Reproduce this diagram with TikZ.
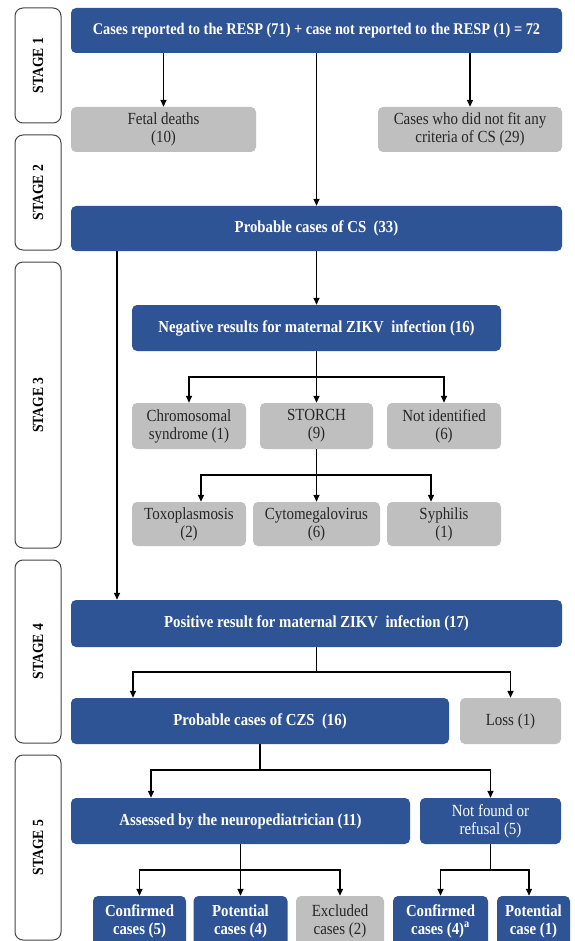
\documentclass[tikz,border=0pt]{standalone}
\usepackage{fontspec}
\setmainfont{Liberation Serif}[FakeStretch=0.88]
\usetikzlibrary{arrows.meta}
\definecolor{boxblue}{RGB}{47,84,150}
\definecolor{boxgray}{RGB}{191,191,191}
\definecolor{stageline}{RGB}{70,70,70}
\definecolor{graytext}{RGB}{38,38,38}
\begin{document}
\begin{tikzpicture}[x=1pt,y=-1pt,
 bluebox/.style={fill=boxblue, rounded corners=5pt, text=white, font=\bfseries\fontsize{16.8}{18}\selectfont, align=center, inner sep=0pt},
 graybox/.style={fill=boxgray, rounded corners=5pt, text=graytext, font=\fontsize{17}{18}\selectfont, align=center, inner sep=0pt},
 stagebox/.style={draw=stageline, line width=1pt, fill=white, rounded corners=8pt, rotate=90, minimum height=46pt, inner sep=0pt, font=\bfseries\fontsize{15.5}{17}\selectfont},
 arr/.style={line width=1.5pt, -{Triangle[length=7pt,width=6pt]}},
 ln/.style={line width=1.5pt}]
\useasboundingbox (0,0) rectangle (574,941);
\fill[white] (0,0) rectangle (574,941);
\clip (0,0) rectangle (574,941);

% stage labels
\node[stagebox, minimum width=115pt] (s1) at (38,65.5) {STAGE 1};
\node[stagebox, minimum width=115pt] (s2) at (38,192.5) {STAGE 2};
\node[stagebox, minimum width=286pt] (s3) at (38,405) {STAGE 3};
\node[stagebox, minimum width=183pt] (s4) at (38,651.5) {STAGE 4};
\node[stagebox, minimum width=185pt] (s5) at (38,847.5) {STAGE 5};

% stage 1-2
\node[bluebox, minimum width=491pt, minimum height=45pt, font=\bfseries\fontsize{16.3}{18}\selectfont] (top) at (316.5,30.5) {Cases reported to the RESP (71) + case not reported to the RESP (1) = 72};
\node[graybox, minimum width=185pt, minimum height=45pt] (fetal) at (163.5,129.5) {Fetal deaths\\(10)};
\node[graybox, minimum width=184pt, minimum height=45pt] (nofit) at (470,129.5) {Cases who did not fit any\\criteria of CS (29)};
\node[bluebox, minimum width=491pt, minimum height=45pt] (cs) at (316.5,228.5) {Probable cases of CS\ \ (33)};

% stage 3
\node[bluebox, minimum width=369pt, minimum height=46pt] (neg) at (316.5,328) {Negative results for maternal ZIKV\ \ infection (16)};
\node[graybox, minimum width=114pt, minimum height=46pt] (chrom) at (189,426) {Chromosomal\\syndrome (1)};
\node[graybox, minimum width=113pt, minimum height=46pt] (storch) at (316.5,426) {STORCH\\(9)};
\node[graybox, minimum width=114pt, minimum height=46pt] (notid) at (444,426) {Not identified\\(6)};
\node[graybox, minimum width=114pt, minimum height=44pt] (toxo) at (189,524) {Toxoplasmosis\\(2)};
\node[graybox, minimum width=127pt, minimum height=44pt] (cmv) at (316.5,524) {Cytomegalovirus\\(6)};
\node[graybox, minimum width=114pt, minimum height=44pt] (syph) at (444,524) {Syphilis\\(1)};

% stage 4
\node[bluebox, minimum width=491pt, minimum height=47pt] (pos) at (316.5,623.5) {Positive result for maternal ZIKV\ \ infection (17)};
\node[bluebox, minimum width=378pt, minimum height=46pt] (czs) at (260,721) {Probable cases of CZS\ \ (16)};
\node[graybox, minimum width=101pt, minimum height=46pt] (loss) at (510.5,721) {Loss (1)};

% stage 5
\node[bluebox, minimum width=339pt, minimum height=46pt] (assess) at (240.5,821) {Assessed by the neuropediatrician (11)};
\node[bluebox, minimum width=141pt, minimum height=46pt, font=\fontsize{17}{18}\selectfont] (notfound) at (490.5,821) {Not found or\\refusal (5)};
\node[bluebox, minimum width=93pt, minimum height=50pt] (conf1) at (139.5,921) {Confirmed\\cases (5)};
\node[bluebox, minimum width=94pt, minimum height=50pt] (pot1) at (240.5,921) {Potential\\cases (4)};
\node[graybox, minimum width=88pt, minimum height=50pt] (excl) at (340,921) {Excluded\\cases (2)};
\node[bluebox, minimum width=95pt, minimum height=50pt] (conf2) at (440.5,921) {Confirmed\\cases (4)\textsuperscript{a}};
\node[bluebox, minimum width=73pt, minimum height=50pt] (pot2) at (533.5,921) {Potential\\case (1)};

% connectors
\draw[arr] (top.south -| fetal.north) -- (fetal.north);
\draw[arr] (top.south -| nofit.north) -- (nofit.north);
\draw[arr] (top.south) -- (cs.north);
\draw[arr] ([xshift=-199.5pt]cs.south) -- ([xshift=-199.5pt]pos.north);
\draw[arr] (cs.south) -- (neg.north);

\coordinate (nj) at (316.5,377);
\draw[ln] (neg.south) -- (nj);
\draw[arr] (nj) -| (chrom.north);
\draw[arr] (nj) -| (notid.north);
\draw[arr] (nj) -- (storch.north);

\coordinate (sj) at (316.5,475);
\draw[ln] (storch.south) -- (sj);
\draw[arr] (sj) -| ([xshift=12pt]toxo.north);
\draw[arr] (sj) -| ([xshift=-13pt]syph.north);
\draw[arr] (sj) -- (cmv.north);

\coordinate (pj) at (316.5,672);
\draw[ln] (pos.south) -- (pj);
\draw[arr] (pj) -| ([xshift=-127pt]czs.north);
\draw[arr] (pj) -| (loss.north);

\coordinate (zj) at (260,770);
\draw[ln] (czs.south) -- (zj);
\draw[arr] (zj) -| ([xshift=-89.5pt]assess.north);
\draw[arr] (zj) -| (notfound.north);

\coordinate (aj) at (240.5,870);
\draw[ln] (assess.south) -- (aj);
\draw[arr] (aj) -| (conf1.north);
\draw[arr] (aj) -- (pot1.north);
\draw[arr] (aj) -| (excl.north);

\coordinate (fj) at (490.5,870);
\draw[ln] (notfound.south) -- (fj);
\draw[arr] (fj) -| (conf2.north);
\draw[arr] (fj) -| ([xshift=-4.5pt]pot2.north);
\end{tikzpicture}
\end{document}
